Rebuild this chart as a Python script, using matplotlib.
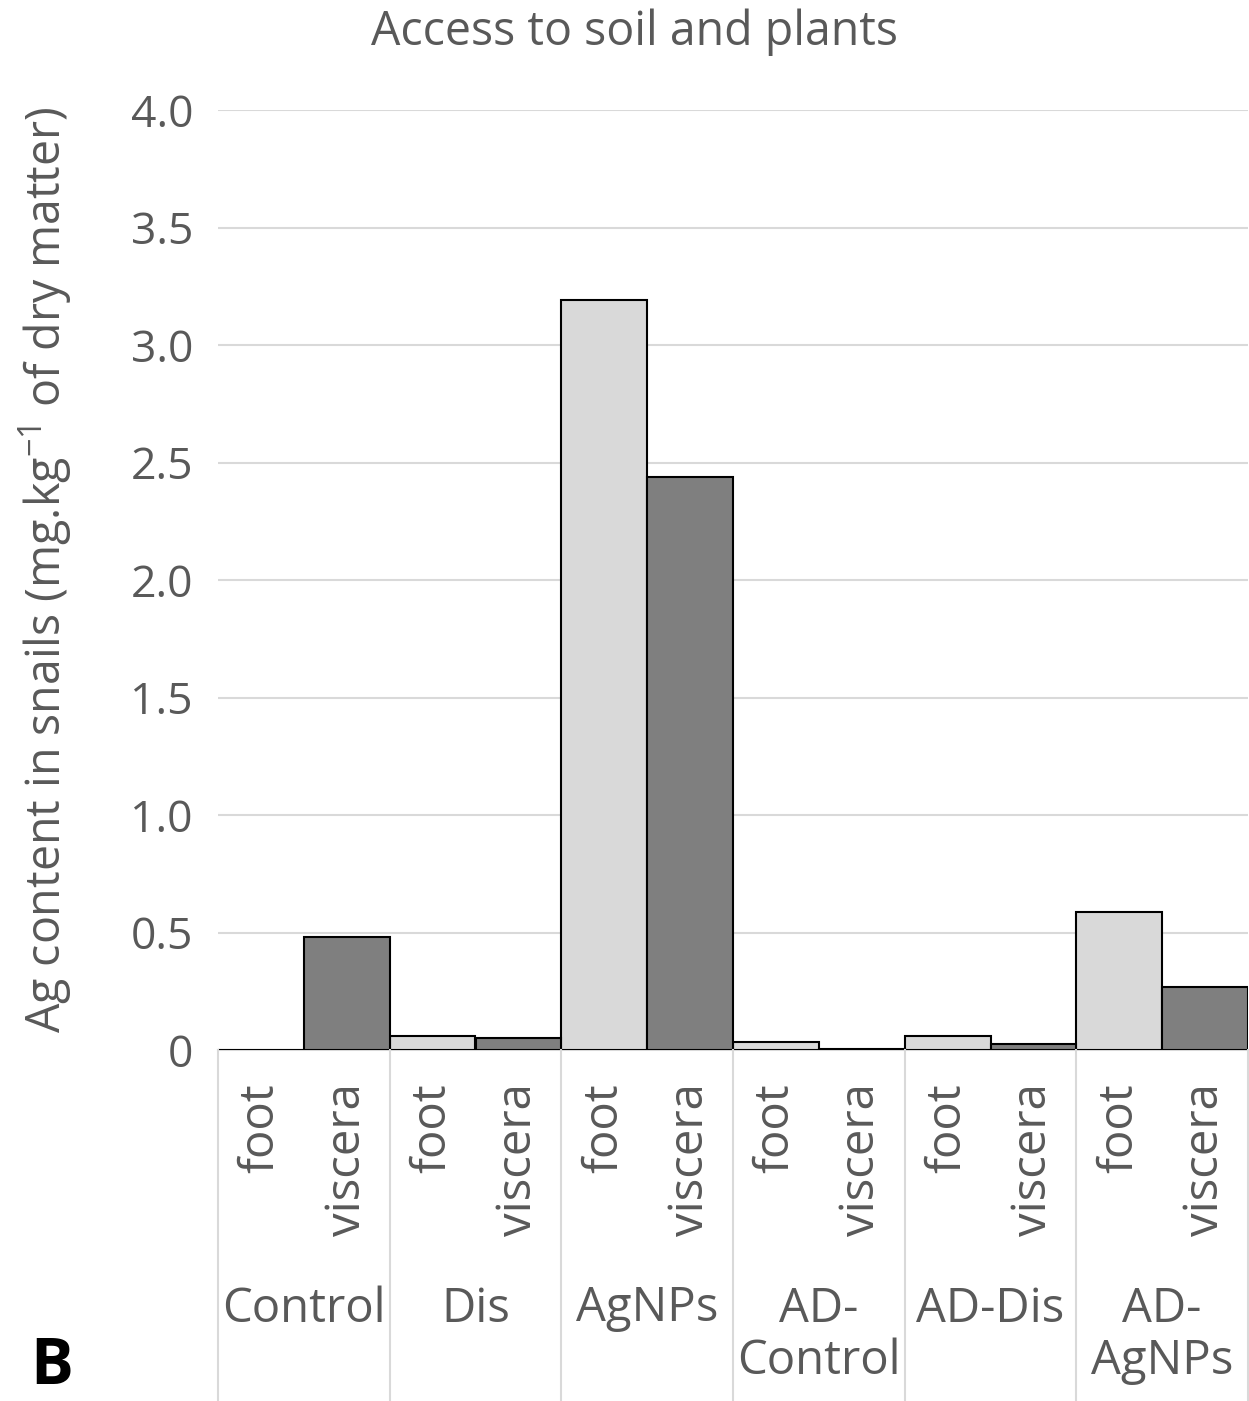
"""Ag content in snails - access to soil and plants (panel B)"""
import matplotlib.pyplot as plt
import matplotlib.lines as mlines
import numpy as np

plt.rcParams['font.family'] = ['Open Sans', 'DejaVu Sans']
plt.rcParams['mathtext.default'] = 'regular'

# ============================================================================
# DATA
# ============================================================================
groups = ['Control', 'Dis', 'AgNPs', 'AD-\nControl', 'AD-Dis', 'AD-\nAgNPs']
parts = ['foot', 'viscera']
foot_vals = [0.0, 0.06, 3.19, 0.034, 0.06, 0.587]
viscera_vals = [0.481, 0.05, 2.44, 0.003, 0.025, 0.268]
yticks = [0, 0.5, 1.0, 1.5, 2.0, 2.5, 3.0, 3.5, 4.0]
ytick_labels = ['0', '0.5', '1.0', '1.5', '2.0', '2.5', '3.0', '3.5', '4.0']

text_col = '#595959'
grid_col = '#d9d9d9'
foot_col = '#d9d9d9'
visc_col = '#7f7f7f'

# ============================================================================
# PLOTTING
# ============================================================================
W, H = 1249, 1401
fig = plt.figure(figsize=(W / 100, H / 100), dpi=100)
x0, x1, y0, y1 = 218, 1248, 1050, 110
ax = fig.add_axes([x0 / W, 1 - y0 / H, (x1 - x0) / W, (y0 - y1) / H])

n = len(groups)
xf = np.arange(n) * 2
xv = xf + 1
ax.bar(xf, foot_vals, width=1.0, align='edge', color=foot_col,
       edgecolor='black', linewidth=1.5, zorder=3)
ax.bar(xv, viscera_vals, width=1.0, align='edge', color=visc_col,
       edgecolor='black', linewidth=1.5, zorder=3)

ax.set_xlim(0, 2 * n)
ax.set_ylim(0, 4.0)
ax.set_yticks(yticks)
ax.set_yticklabels(ytick_labels, fontsize=32, color=text_col)
ax.tick_params(axis='y', length=0, pad=18)
ax.set_xticks([])
ax.grid(axis='y', color=grid_col, linewidth=1.5, zorder=0)
for s in ['top', 'right', 'left']:
    ax.spines[s].set_visible(False)
ax.spines['bottom'].set_color(grid_col)
ax.spines['bottom'].set_linewidth(1.5)

# category axis: part labels, group labels and separators
for i in range(n):
    for j, part in enumerate(parts):
        ax.text(2 * i + j + 0.5, -0.14, part, rotation=90, ha='center', va='top',
                fontsize=34, color=text_col, clip_on=False)
    ax.text(2 * i + 1, -1.0, groups[i], ha='center', va='top', fontsize=34,
            color=text_col, linespacing=1.15, clip_on=False)

for k in range(n + 1):
    xs = ax.transData.transform((2 * k, 0))[0] / W
    fig.add_artist(mlines.Line2D([xs, xs], [0, 1 - y0 / H], color=grid_col, linewidth=1.5))

# ============================================================================
# TEXT
# ============================================================================
fig.text(0.508, 1 - 32 / H, 'Access to soil and plants', ha='center', va='center',
         fontsize=33.5, color=text_col)
fig.text(45 / W, 1 - 570 / H, 'Ag content in snails (mg.kg$^{-1}$ of dry matter)',
         rotation=90, ha='center', va='center', fontsize=33.5, color=text_col)
fig.text(52 / W, 1 - 1368 / H, 'B', ha='center', va='center', fontsize=46,
         fontweight='bold', color='black')

plt.savefig('out.png', dpi=100)
